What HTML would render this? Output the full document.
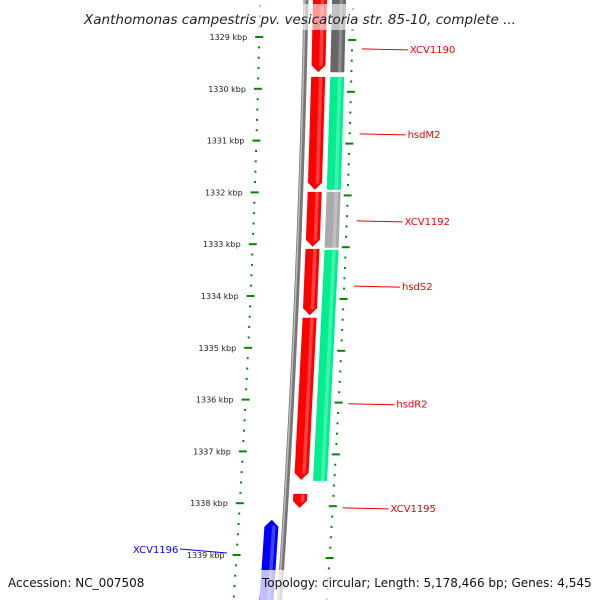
<!DOCTYPE html>
<html><head><meta charset="utf-8"><style>
body{margin:0;background:#fff;overflow:hidden;}
svg{display:block;font-family:"DejaVu Sans","Liberation Sans",sans-serif;}
</style></head><body>
<svg id="c" width="600" height="600" viewBox="0 0 600 600" xmlns="http://www.w3.org/2000/svg"></svg>
<script>
const tickKbp=[1329,1330,1331,1332,1333,1334,1335,1336,1337,1338,1339];
const redStart=[1328.2,1329.77,1331.99,1333.09,1334.42,1337.82];
const redEnd=[1329.68,1331.95,1333.05,1334.37,1337.55,1338.09];
const trk2Start=[1328.2,1329.77,1331.99,1333.11];
const trk2End=[1329.68,1331.95,1333.07,1337.57];
const trk2Type=['grey','green','lightgrey','green'];
const blueStart=[1340.5];const blueEnd=[1338.32];
const labels=['XCV1190','hsdM2','XCV1192','hsdS2','hsdR2','XCV1195'];
const labelKbp=[1329.23,1330.87,1332.55,1333.81,1336.08,1338.09];
const labelColor='#e00';
const svg=document.getElementById('c');const NS='http://www.w3.org/2000/svg';
function Y(k){return 37+(k-1329)*51.8;}
function dx(y){return -0.02*y-0.00004*y*y;}
function mk(t,a,name){const e=document.createElementNS(NS,t);for(const k in a)e.setAttribute(k,a[k]);


svg.appendChild(e);return e;}
let d='';for(let y=0;y<=600;y+=10){d+=(y?'L':'M')+(306+dx(y))+' '+y;}
mk('path',{d:d,stroke:'#777',fill:'none','stroke-width':5},'backbone');
mk('path',{d:d,stroke:'#bbb',fill:'none','stroke-width':1.5,transform:'translate(-1,0)'},'backbone-highlight');
for(let k=1328.2;k<=1340.6;k+=0.2){const y=Y(k);const maj=Math.abs(k-Math.round(k))<0.01;
const xl=260+dx(y), xr=353+dx(y);
mk('line',{x1:xl-(maj?4:1),x2:xl+(maj?4:1),y1:y,y2:y,stroke:'#080','stroke-width':2},'left-tick');
mk('line',{x1:xr-(maj?4:1),x2:xr+(maj?4:1),y1:y+3,y2:y+3,stroke:'#080','stroke-width':2},'right-tick');}
tickKbp.forEach(k=>{const y=Y(k);const t=mk('text',{x:248+dx(y),y:y+3,'font-size':8,'text-anchor':'end',fill:'#222'},'tick-label');t.textContent=k+' kbp';});
function feat(s,e,x0,w,fill,arrowDown,name){const y1=Y(s),y2=Y(e);let p;
const a=(y,o)=>(x0+o+dx(y)).toFixed(1)+','+y.toFixed(1);
if(arrowDown===1)p=[a(y1,0),a(y1,w),a(y2-7,w),a(y2,w/2),a(y2-7,0)];
else if(arrowDown===-1)p=[a(y1,0),a(y2+7,0),a(y2,w/2),a(y2+7,w),a(y1,w)];
else p=[a(y1,0),a(y1,w),a(y2,w),a(y2,0)];
mk('polygon',{points:p.join(' '),fill:fill},name);
const yb=y2-(arrowDown===1?6:0), yt=arrowDown===-1?y2+6:y1;
const pp=[a(arrowDown===-1?y1:y1,w*0.55),a(y1,w*0.8),a(arrowDown===-1?yt:yb,w*0.8),a(arrowDown===-1?yt:yb,w*0.55)];
mk('polygon',{points:pp.join(' '),fill:'#fff',opacity:0.25},name+'-shine');}
redStart.forEach((s,i)=>feat(s,redEnd[i],313,14,'#f00',1,'red-gene-'+i));
const cols={grey:'#666',green:'#00ee90',lightgrey:'#aaa'};
trk2Start.forEach((s,i)=>feat(s,trk2End[i],332,14,cols[trk2Type[i]],0,'track2-gene-'+i));
blueStart.forEach((s,i)=>feat(s,blueEnd[i],286,14,'#00f',-1,'blue-gene-'+i));
labels.forEach((l,i)=>{const y=Y(labelKbp[i]);const x=363+dx(y);
mk('line',{x1:x,x2:x+46,y1:y,y2:y+1,stroke:'#e00','stroke-width':1},'label-line');
const t=mk('text',{x:x+48,y:y+4,'font-size':10,fill:labelColor},'gene-label');t.textContent=l;});
{const y=549;mk('line',{x1:180,x2:227,y1:y,y2:y+4,stroke:'#00f','stroke-width':1},'label-line');
const t=mk('text',{x:133,y:y+4,'font-size':10,fill:'#00f'},'gene-label');t.textContent='XCV1196';}
mk('rect',{x:0,y:4,width:600,height:26,fill:'#fff',opacity:0.6},'title-bg');
const tt=mk('text',{x:300,y:24,'font-size':13.5,'font-style':'italic','text-anchor':'middle',fill:'#222'},'title');tt.textContent='Xanthomonas campestris pv. vesicatoria str. 85-10, complete ...';
mk('rect',{x:260,y:570,width:340,height:30,fill:'#fff',opacity:0.75},'info-bg');
const a1=mk('text',{x:8,y:587,'font-size':12,fill:'#111'},'accession');a1.textContent='Accession: NC_007508';
const a2=mk('text',{x:262,y:587,'font-size':12,fill:'#111'},'topology-info');a2.textContent='Topology: circular; Length: 5,178,466 bp; Genes: 4,545';
</script></body></html>
